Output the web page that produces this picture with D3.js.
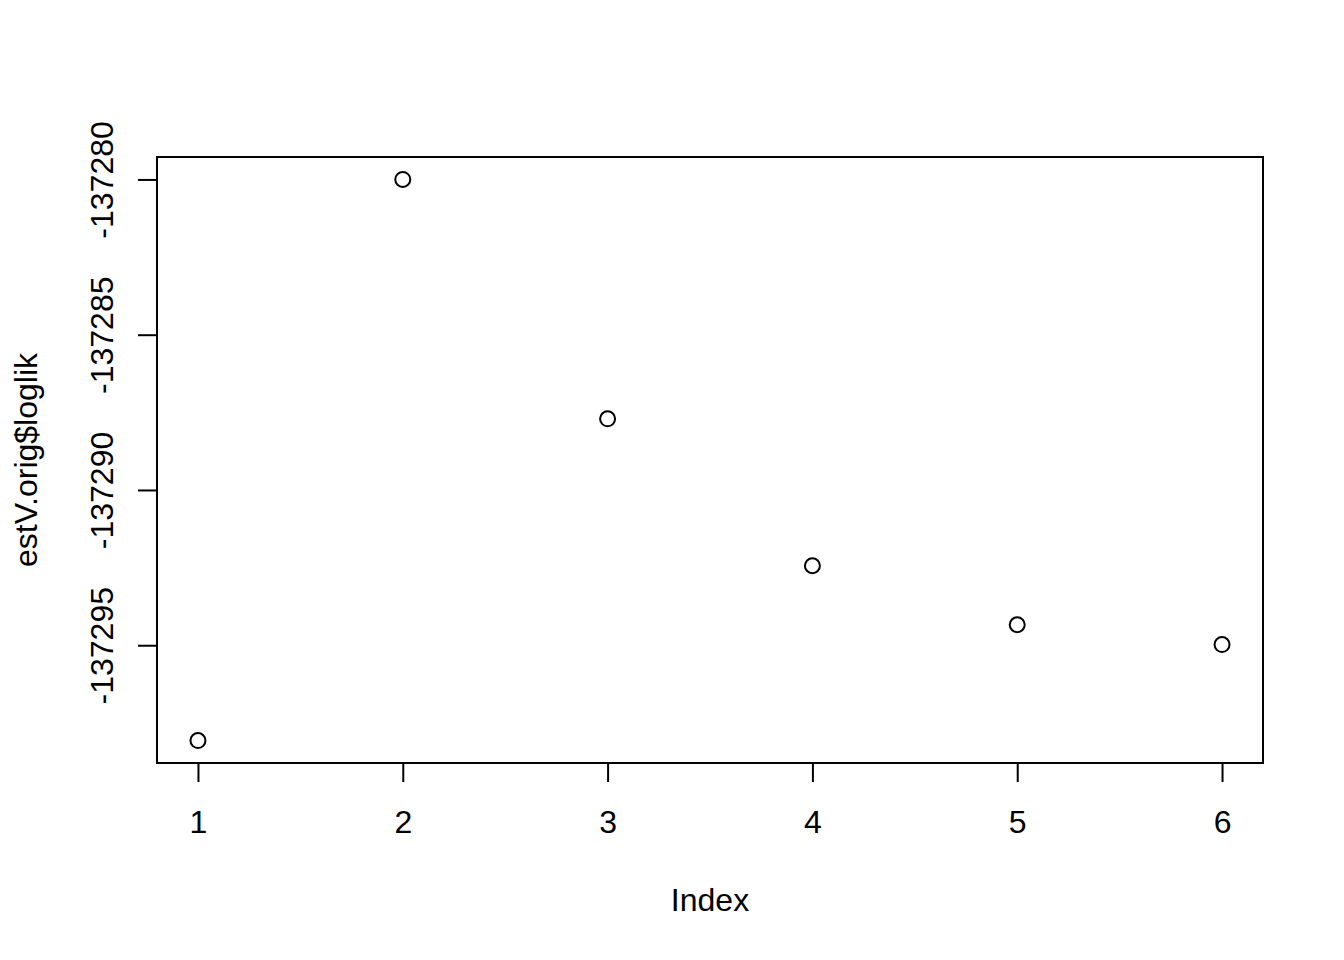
<!DOCTYPE html>
<html><head><meta charset="utf-8">
<script src="https://cdn.jsdelivr.net/npm/d3@7"></script>
<style>body{margin:0;background:#fff}svg{display:block}text{font-family:"Liberation Sans",Arial,sans-serif;fill:#000}</style>
</head><body>
<script>
const indexValues = [1, 2, 3, 4, 5, 6];
const loglikValues = [-137298.07, -137280.0, -137287.71, -137292.44, -137294.34, -137294.98];
const xTicks = [1, 2, 3, 4, 5, 6];
const yTicks = [-137280, -137285, -137290, -137295];
const xLabel = "Index";
const yLabel = "estV.orig$loglik";

const W = 1344, H = 960;
const box = {left: 157, right: 1263, top: 157, bottom: 763};
const fs = 32;
const fmt = (d) => String(d);

const svg = d3.select("body").append("svg").attr("width", W).attr("height", H);

const xmin = d3.min(indexValues), xmax = d3.max(indexValues);
const ymin = d3.min(loglikValues), ymax = d3.max(loglikValues);
const xpad = (xmax - xmin) * 0.04, ypad = (ymax - ymin) * 0.04;
const x = d3.scaleLinear().domain([xmin - xpad, xmax + xpad]).range([box.left, box.right]);
const y = d3.scaleLinear().domain([ymin - ypad, ymax + ypad]).range([box.bottom, box.top]);

// box
svg.append("rect").attr("x", box.left).attr("y", box.top)
  .attr("width", box.right - box.left).attr("height", box.bottom - box.top)
  .attr("fill", "none").attr("stroke", "#000").attr("stroke-width", 2);

// x axis
const xAxis = d3.axisBottom(x).tickValues(xTicks).tickSize(19).tickFormat(fmt);
const gx = svg.append("g").attr("transform", `translate(0,${box.bottom})`).call(xAxis);
gx.select(".domain").attr("d", `M${x(xTicks[0])},0H${x(xTicks[xTicks.length-1])}`).attr("stroke-width", 2);
gx.selectAll(".tick line").attr("stroke-width", 2);
gx.selectAll(".tick text").attr("font-size", fs).attr("font-family", '"Liberation Sans",Arial,sans-serif')
  .attr("y", null).attr("dy", null).attr("transform", "translate(0,70)");

// y axis
const yAxis = d3.axisLeft(y).tickValues(yTicks).tickSize(19).tickFormat(fmt);
const gy = svg.append("g").attr("transform", `translate(${box.left},0)`).call(yAxis);
gy.select(".domain").attr("d", `M0,${y(yTicks[yTicks.length-1])}V${y(yTicks[0])}`).attr("stroke-width", 2);
gy.selectAll(".tick line").attr("stroke-width", 2);
gy.selectAll(".tick text").attr("font-size", fs).attr("font-family", '"Liberation Sans",Arial,sans-serif')
  .attr("x", null).attr("dy", null).attr("text-anchor", "middle")
  .attr("transform", "translate(-44,0) rotate(-90)");

// points
svg.append("g").selectAll("circle").data(indexValues).join("circle")
  .attr("cx", (d) => x(d)).attr("cy", (d, i) => y(loglikValues[i])).attr("r", 7.5)
  .attr("fill", "none").attr("stroke", "#000").attr("stroke-width", 2);

// labels
svg.append("text").attr("x", (box.left + box.right) / 2).attr("y", 911)
  .attr("text-anchor", "middle").attr("font-size", fs).text(xLabel);
svg.append("text").attr("transform", `translate(37,${(box.top + box.bottom) / 2}) rotate(-90)`)
  .attr("text-anchor", "middle").attr("font-size", fs).text(yLabel);
</script>
</body></html>
